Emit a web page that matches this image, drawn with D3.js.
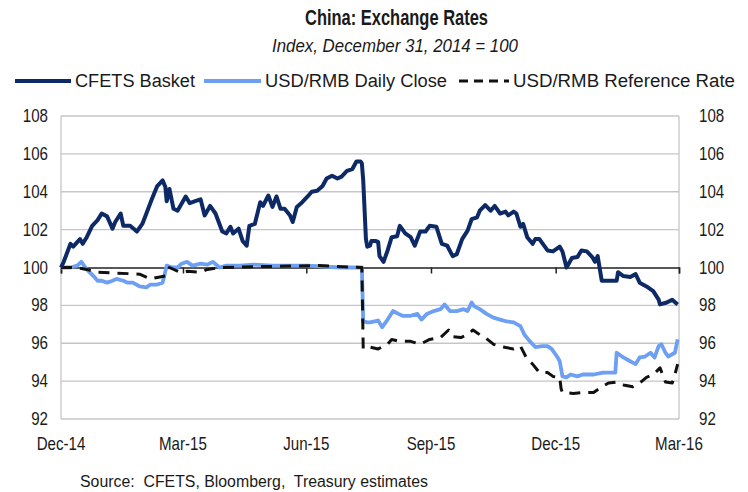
<!DOCTYPE html>
<html>
<head>
<meta charset="utf-8">
<script src="https://cdn.jsdelivr.net/npm/d3@7"></script>
<style>
  body { margin: 0; background: #fff; }
  svg text { font-family: "Liberation Sans Narrow", "Arial Narrow", "Liberation Sans", Arial, sans-serif; fill: #1a1a1a; }
</style>
</head>
<body>
<div id="chart"></div>
<script>
// Datos: días desde el 31/12/2014 y valor del índice (31/12/2014 = 100)
const cfetsDay = [0, 2, 7, 9, 14, 16, 19, 23, 27, 30, 34, 38, 40, 44, 46, 51, 56, 60, 63, 67, 71, 75, 77, 78, 80, 83, 86, 92, 95, 99, 103, 106, 110, 114, 119, 122, 125, 127, 131, 134, 137, 139, 143, 147, 149, 153, 156, 159, 162, 165, 169, 171, 174, 178, 182, 185, 189, 193, 196, 200, 204, 207, 211, 215, 218, 221, 222, 223, 225, 226, 228, 229, 232, 234, 235, 238, 241, 244, 248, 250, 254, 258, 261, 265, 269, 272, 277, 281, 285, 289, 292, 296, 300, 303, 307, 309, 313, 317, 320, 324, 328, 330, 334, 336, 339, 341, 344, 348, 350, 353, 359, 363, 368, 370, 373, 377, 381, 384, 388, 392, 394, 396, 399, 403, 410, 411, 415, 420, 424, 427, 432, 437, 441, 442, 447, 451, 455];
const cfetsVal = [100, 100.3, 101.25, 101.1, 101.5, 101.25, 101.6, 102.2, 102.5, 102.85, 102.7, 102.05, 102.4, 102.85, 102.2, 102.2, 101.9, 102.3, 102.85, 103.6, 104.3, 104.6, 104.25, 103.5, 104.15, 103.1, 103.0, 103.75, 103.4, 103.5, 103.6, 102.75, 103.25, 102.85, 101.9, 101.8, 102.15, 101.8, 102.05, 101.4, 101.15, 102.2, 102.3, 103.45, 103.25, 103.8, 103.2, 103.75, 103.1, 103.1, 102.75, 102.4, 103.2, 103.45, 103.75, 104.0, 104.05, 104.3, 104.7, 104.85, 104.7, 104.8, 105.1, 105.2, 105.6, 105.6, 105.5, 104.6, 101.5, 101.1, 101.15, 101.4, 101.4, 101.35, 100.6, 100.3, 100.9, 101.6, 101.65, 102.2, 101.8, 101.6, 101.15, 101.9, 101.9, 102.2, 102.15, 101.25, 101.15, 100.6, 100.7, 101.5, 101.95, 102.55, 102.65, 103.0, 103.3, 103.0, 103.25, 102.85, 102.95, 102.75, 102.95, 102.85, 102.15, 102.3, 101.6, 101.25, 101.5, 101.5, 100.9, 100.85, 101.1, 100.85, 100.0, 100.5, 100.55, 100.9, 100.85, 100.55, 100.3, 100.6, 99.3, 99.3, 99.3, 99.75, 99.55, 99.5, 99.65, 99.2, 99.0, 98.75, 98.3, 98.05, 98.15, 98.3, 98.05];

const closeDay = [0, 7, 12, 15, 19, 24, 27, 30, 34, 38, 41, 46, 49, 53, 58, 63, 66, 71, 75, 78, 82, 86, 89, 93, 97, 103, 108, 112, 117, 122, 132, 142, 156, 182, 206, 221, 222, 223, 226, 228, 234, 237, 241, 245, 249, 252, 258, 263, 266, 270, 275, 280, 283, 287, 292, 297, 300, 303, 305, 309, 314, 319, 324, 329, 334, 339, 342, 346, 350, 355, 359, 362, 366, 368, 370, 373, 376, 381, 385, 393, 400, 409, 410, 415, 420, 424, 427, 431, 435, 438, 441, 443, 446, 448, 453, 455];
const closeVal = [100, 100, 100.1, 100.3, 99.9, 99.55, 99.3, 99.3, 99.2, 99.3, 99.4, 99.3, 99.2, 99.2, 99.0, 98.95, 99.1, 99.1, 99.2, 100.1, 100.0, 100.0, 100.2, 100.3, 100.1, 100.2, 100.15, 100.3, 100.0, 100.1, 100.1, 100.15, 100.1, 100.1, 100.0, 100.0, 100.0, 97.15, 97.1, 97.1, 97.2, 96.85, 97.25, 97.7, 97.55, 97.45, 97.45, 97.55, 97.25, 97.55, 97.7, 97.8, 98.05, 97.7, 97.7, 97.8, 97.7, 98.15, 97.95, 97.8, 97.55, 97.35, 97.25, 97.15, 97.1, 96.9, 96.45, 96.1, 95.8, 95.85, 95.85, 95.7, 95.3, 95.05, 94.25, 94.2, 94.35, 94.25, 94.35, 94.35, 94.45, 94.45, 95.5, 95.25, 95.05, 94.9, 95.25, 95.3, 95.5, 95.25, 95.85, 95.95, 95.5, 95.3, 95.5, 96.2];

const refDay = [0, 10, 19, 27, 58, 66, 73, 77, 80, 88, 93, 103, 108, 117, 150, 190, 221, 222, 223, 228, 234, 241, 244, 250, 258, 265, 272, 280, 286, 289, 295, 300, 304, 309, 313, 319, 326, 334, 339, 344, 348, 353, 359, 363, 368, 369, 370, 378, 385, 393, 398, 404, 410, 415, 422, 427, 432, 437, 442, 446, 451, 453, 455];
const refVal = [100, 100, 99.9, 99.75, 99.65, 99.4, 99.5, 99.55, 100, 99.75, 99.8, 99.75, 99.9, 100, 100.05, 100.1, 100, 100, 95.7, 95.8, 95.7, 95.95, 96.2, 96.1, 96.1, 95.95, 96.2, 96.3, 96.7, 96.35, 96.3, 96.45, 96.7, 96.45, 96.3, 95.95, 95.8, 95.7, 95.85, 95.15, 94.9, 94.45, 94.45, 94.25, 94.2, 93.6, 93.4, 93.35, 93.4, 93.4, 93.65, 93.9, 93.95, 93.8, 93.7, 93.9, 94.2, 94.35, 94.7, 93.95, 93.9, 94.35, 94.9];

const yTicks = [92, 94, 96, 98, 100, 102, 104, 106, 108];
const xTickDates = ["2014-12-31", "2015-03-31", "2015-06-30", "2015-09-30", "2015-12-31", "2016-03-31"];
const xTickLabels = ["Dec-14", "Mar-15", "Jun-15", "Sep-15", "Dec-15", "Mar-16"];

const seriesNames = ["CFETS Basket", "USD/RMB Daily Close", "USD/RMB Reference Rate"];

document.addEventListener('DOMContentLoaded', function() {
    const width = 748, height = 492;
    const plot = {left: 61, right: 679, top: 116, bottom: 419};
    const narrow = 0.84; // imitar Arial Narrow

    const svg = d3.select("#chart")
        .append("svg")
        .attr("width", width)
        .attr("height", height);

    const parse = d3.timeParse("%Y-%m-%d");
    const base = parse("2014-12-31");
    const toDate = d => d3.timeDay.offset(base, d);

    const x = d3.scaleTime()
        .domain([base, parse("2016-03-31")])
        .range([plot.left, plot.right]);
    const y = d3.scaleLinear()
        .domain([92, 108])
        .range([plot.bottom, plot.top]);

    // texto estrecho: escala horizontal alrededor del punto de anclaje
    function narrowText(parent, tx, ty, str, anchor, size) {
        return parent.append("text")
            .attr("transform", "translate(" + tx + "," + ty + ") scale(" + narrow + ",1)")
            .attr("text-anchor", anchor)
            .style("font-size", size + "px")
            .text(str);
    }

    // Líneas de cuadrícula
    svg.append("g")
        .selectAll("line")
        .data(yTicks.filter(v => v !== 100))
        .enter()
        .append("line")
        .attr("x1", plot.left).attr("x2", plot.right)
        .attr("y1", d => y(d)).attr("y2", d => y(d))
        .attr("stroke", "#c6c6c6")
        .attr("stroke-width", 1.3);

    // Bordes izquierdo y derecho
    [plot.left, plot.right].forEach(bx => {
        svg.append("line")
            .attr("x1", bx).attr("x2", bx)
            .attr("y1", plot.top).attr("y2", plot.bottom)
            .attr("stroke", "#c6c6c6").attr("stroke-width", 1.3);
    });

    // Etiquetas del eje Y (izquierda y derecha)
    const yl = svg.append("g");
    yTicks.forEach(v => {
        narrowText(yl, 48, y(v) + 6, v, "end", 18);
        narrowText(yl, 699, y(v) + 6, v, "start", 18);
    });

    // Eje X cruzando en 100
    const xAxis = d3.axisBottom(x)
        .tickValues(xTickDates.map(parse))
        .tickSize(6)
        .tickFormat("");
    const gx = svg.append("g")
        .attr("transform", "translate(0," + y(100) + ")")
        .call(xAxis);
    gx.select(".domain").attr("stroke", "#222").attr("stroke-width", 1.5);
    gx.selectAll(".tick line").attr("stroke", "#222").attr("stroke-width", 1.5);

    const xl = svg.append("g");
    xTickDates.forEach((d, i) => {
        narrowText(xl, x(parse(d)), 450, xTickLabels[i], "middle", 18);
    });

    // Series
    const line = d3.line()
        .x(d => x(toDate(d[0])))
        .y(d => y(d[1]));

    const series = [
        {days: closeDay, vals: closeVal, color: "#6d9ff2", width: 3.8, dash: null},
        {days: refDay, vals: refVal, color: "#111", width: 3, dash: "11,8"},
        {days: cfetsDay, vals: cfetsVal, color: "#0e2a66", width: 4, dash: null}
    ];

    series.forEach(s => {
        svg.append("path")
            .datum(s.days.map((d, i) => [d, s.vals[i]]))
            .attr("fill", "none")
            .attr("stroke", s.color)
            .attr("stroke-width", s.width)
            .attr("stroke-linejoin", "round")
            .attr("stroke-dasharray", s.dash)
            .attr("d", line);
    });

    // Título y subtítulo
    svg.append("text")
        .attr("x", 305).attr("y", 25)
        .attr("textLength", 183)
        .attr("lengthAdjust", "spacingAndGlyphs")
        .style("font-size", "22px")
        .style("font-weight", "bold")
        .text("China: Exchange Rates");
    svg.append("text")
        .attr("x", 272).attr("y", 52)
        .attr("textLength", 246)
        .attr("lengthAdjust", "spacingAndGlyphs")
        .style("font-size", "18px")
        .style("font-style", "italic")
        .text("Index, December 31, 2014 = 100");

    // Leyenda
    const legend = [
        {x1: 15, x2: 71, tx: 75, len: 120, color: "#0e2a66", dash: null, w: 4},
        {x1: 204, x2: 261, tx: 265, len: 182, color: "#6d9ff2", dash: null, w: 3.8},
        {x1: 459, x2: 509, tx: 513, len: 222, color: "#111", dash: "9,6", w: 3}
    ];
    const lg = svg.append("g");
    legend.forEach((l, i) => {
        lg.append("line")
            .attr("x1", l.x1).attr("x2", l.x2)
            .attr("y1", 81).attr("y2", 81)
            .attr("stroke", l.color)
            .attr("stroke-width", l.w)
            .attr("stroke-dasharray", l.dash);
        lg.append("text")
            .attr("x", l.tx).attr("y", 87)
            .attr("textLength", l.len)
            .attr("lengthAdjust", "spacingAndGlyphs")
            .style("font-size", "18px")
            .text(seriesNames[i]);
    });

    // Fuente
    svg.append("text")
        .attr("x", 80).attr("y", 487)
        .attr("textLength", 348)
        .attr("lengthAdjust", "spacingAndGlyphs")
        .style("font-size", "16px")
        .attr("xml:space", "preserve")
        .text("Source:  CFETS, Bloomberg,  Treasury estimates");
});
</script>
</body>
</html>
